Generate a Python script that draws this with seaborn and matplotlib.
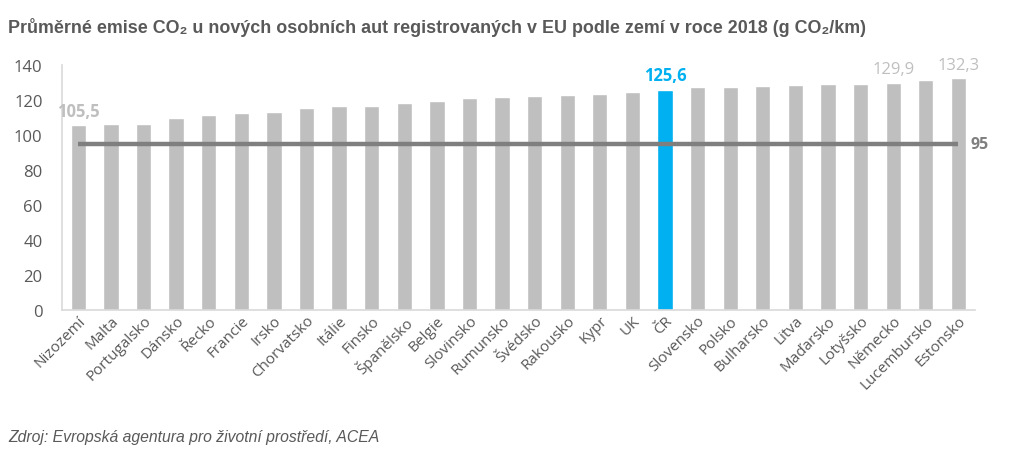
import pandas as pd
import matplotlib.pyplot as plt
import seaborn as sns

countries = [
    "Nizozemí", "Malta", "Portugalsko", "Dánsko", "Řecko", "Francie", "Irsko",
    "Chorvatsko", "Itálie", "Finsko", "Španělsko", "Belgie", "Slovinsko",
    "Rumunsko", "Švédsko", "Rakousko", "Kypr", "UK", "ČR", "Slovensko",
    "Polsko", "Bulharsko", "Litva", "Maďarsko", "Lotyšsko", "Německo",
    "Lucembursko", "Estonsko",
]
emissions = [
    105.5, 106.0, 106.3, 109.7, 111.2, 112.4, 113.1,
    115.6, 116.4, 116.6, 118.1, 119.4, 120.9,
    121.7, 122.3, 123.0, 123.4, 124.6, 125.6, 127.4,
    127.6, 128.0, 128.6, 128.8, 128.8, 129.9,
    131.4, 132.3,
]
target = 95
highlight = "ČR"
labelled = ["Nizozemí", "ČR", "Německo", "Estonsko"]
y_ticks = [0, 20, 40, 60, 80, 100, 120, 140]

GREY_BAR = "#bfbfbf"
BLUE = "#00b0f0"
TEXT = "#595959"
LINE = "#7f7f7f"

sns.set_style("white")
plt.rcParams["font.family"] = ["Open Sans", "DejaVu Sans"]

df = pd.DataFrame({"country": countries, "value": emissions})
palette = {c: (BLUE if c == highlight else GREY_BAR) for c in countries}

fig = plt.figure(figsize=(10.1, 4.77), dpi=100)
ax = fig.add_axes([0.0614, 0.348, 0.9036, 0.514])

sns.barplot(data=df, x="country", y="value", hue="country", palette=palette,
            width=0.47, legend=False, ax=ax, saturation=1)

# target line 95 g/km
ax.plot(range(len(countries)), [target] * len(countries), color=LINE,
        linewidth=3.2, solid_capstyle="butt", zorder=5)
ax.annotate(str(target), (len(countries) - 1, target), xytext=(9, 0),
            textcoords="offset points", va="center", ha="left",
            color=LINE, fontsize=11.5, fontweight="bold")

for name in labelled:
    i = countries.index(name)
    v = emissions[i]
    is_hl = name == highlight
    ax.annotate(f"{v:.1f}".replace(".", ","), (i, v), xytext=(0, 4),
                textcoords="offset points", ha="center", va="bottom",
                fontsize=12, color=BLUE if is_hl else GREY_BAR,
                fontweight="bold" if (is_hl or i == 0) else "normal")

ax.set_xlim(-0.5, len(countries) - 0.5)
ax.set_ylim(0, 140)
ax.set_yticks(y_ticks)
ax.set_xlabel("")
ax.set_ylabel("")
ax.tick_params(axis="both", length=0, colors=TEXT)
ax.tick_params(axis="y", pad=14, labelsize=12)
ax.tick_params(axis="x", labelsize=11, pad=2)
plt.setp(ax.get_xticklabels(), rotation=45, ha="right", rotation_mode="anchor")

for side in ["top", "right"]:
    ax.spines[side].set_visible(False)
for side in ["left", "bottom"]:
    ax.spines[side].set_color("#d9d9d9")
    ax.spines[side].set_linewidth(1.2)

fig.text(0.008, 0.943,
         "Průměrné emise CO₂ u nových osobních aut registrovaných v EU podle zemí v roce 2018 (g CO₂/km)",
         fontsize=12.9, fontweight="bold", color=TEXT, va="center",
         family=["Liberation Sans", "DejaVu Sans"])
fig.text(0.008, 0.082, "Zdroj: Evropská agentura pro životní prostředí, ACEA",
         fontsize=11.3, style="italic", color=TEXT, va="center",
         family=["Liberation Sans", "DejaVu Sans"])

fig.savefig("out.png", dpi=100)
